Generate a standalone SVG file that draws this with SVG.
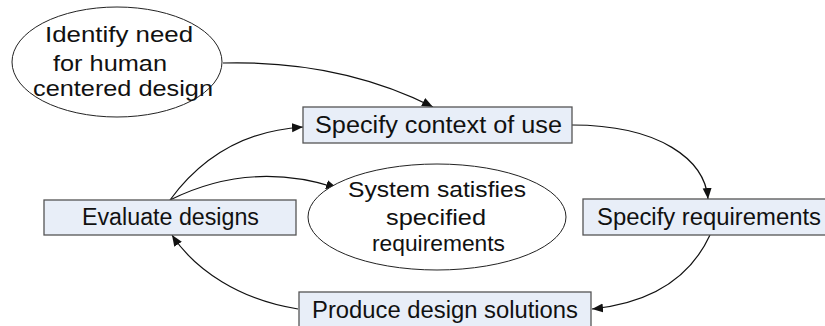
<svg xmlns="http://www.w3.org/2000/svg" width="825" height="326" viewBox="0 0 825 326">
<defs>
<marker id="arr" markerWidth="12" markerHeight="10" refX="11" refY="5" orient="auto" markerUnits="userSpaceOnUse">
<path d="M0,0.5 L11,5 L0,9.5 Z" fill="#111"/>
</marker>
<style>
.box{fill:#e8eef8;stroke:#555;stroke-width:1.3}
.ell{fill:#fff;stroke:#222;stroke-width:1}
.t{font-family:"Liberation Sans",Arial,sans-serif;fill:#111}
.bt{font-size:23px}
.et{font-size:22px}
.con{fill:none;stroke:#111;stroke-width:1.2}
</style>
</defs>
<rect width="825" height="326" fill="#fff"/>
<g id="connectors">
<path class="con" d="M223,63 Q340,60 433,107" marker-end="url(#arr)"/>
<path class="con" d="M170,200 Q220,132 303,127" marker-end="url(#arr)"/>
<path class="con" d="M170,200 Q250,160 337,188" marker-end="url(#arr)"/>
<path class="con" d="M572,125 C660,125 705,160 708,199" marker-end="url(#arr)"/>
<path class="con" d="M710,235 Q680,300 592,309" marker-end="url(#arr)"/>
<path class="con" d="M298,309 C240,300 195,270 172,235" marker-end="url(#arr)"/>
</g>
<g id="identify">
<ellipse class="ell" cx="117" cy="62" rx="105" ry="55"/>
<text class="t et" x="45" y="42" textLength="148" lengthAdjust="spacingAndGlyphs">Identify need</text>
<text class="t et" x="53" y="71" textLength="114" lengthAdjust="spacingAndGlyphs">for human</text>
<text class="t et" x="33" y="96" textLength="180" lengthAdjust="spacingAndGlyphs">centered design</text>
</g>
<g id="context">
<rect class="box" x="303" y="107" width="269" height="36"/>
<text class="t bt" x="315" y="133" textLength="247" lengthAdjust="spacingAndGlyphs">Specify context of use</text>
</g>
<g id="evaluate">
<rect class="box" x="44" y="200" width="252" height="35"/>
<text class="t bt" x="82" y="225" textLength="177" lengthAdjust="spacingAndGlyphs">Evaluate designs</text>
</g>
<g id="satisfies">
<ellipse class="ell" cx="437" cy="217" rx="129" ry="53"/>
<text class="t et" x="348" y="197" textLength="178" lengthAdjust="spacingAndGlyphs">System satisfies</text>
<text class="t et" x="386" y="225" textLength="100" lengthAdjust="spacingAndGlyphs">specified</text>
<text class="t et" x="372" y="251" textLength="133" lengthAdjust="spacingAndGlyphs">requirements</text>
</g>
<g id="requirements">
<rect class="box" x="583" y="199" width="250" height="36"/>
<text class="t bt" x="597" y="225" textLength="224" lengthAdjust="spacingAndGlyphs">Specify requirements</text>
</g>
<g id="produce">
<rect class="box" x="299" y="292" width="292" height="40"/>
<text class="t bt" x="312" y="318" textLength="266" lengthAdjust="spacingAndGlyphs">Produce design solutions</text>
</g>
</svg>
